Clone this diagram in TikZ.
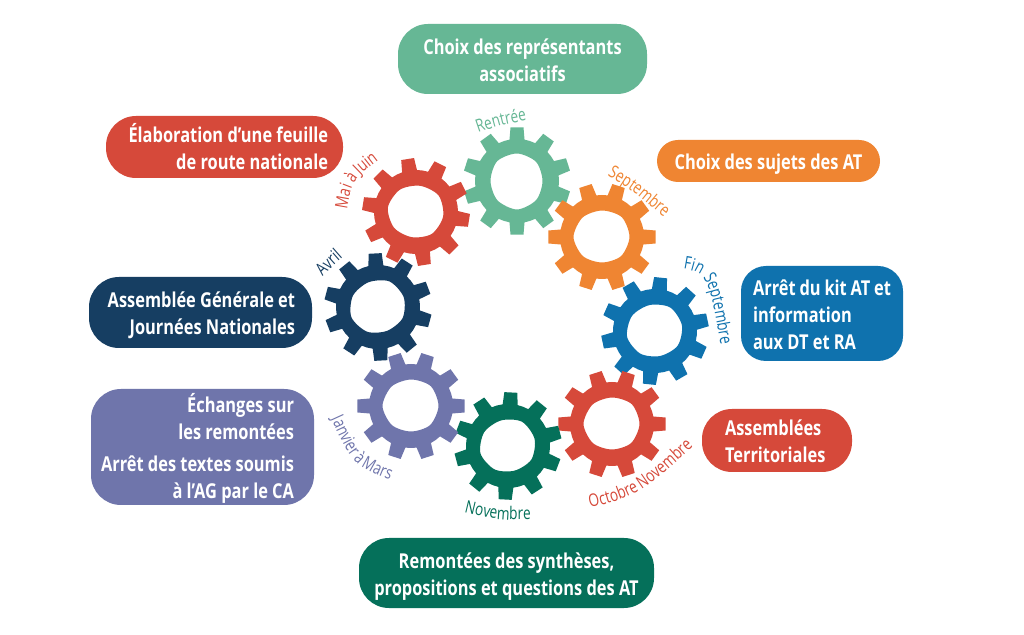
\documentclass[tikz,border=0pt]{standalone}
\usepackage{fontspec}
\setmainfont[FakeStretch=0.8]{Open Sans}
\newfontfamily\labfam[FakeStretch=0.78,WordSpace=0.85]{Open Sans}
\usetikzlibrary{decorations.text}
\definecolor{cgreen}{HTML}{66B795}
\definecolor{corange}{HTML}{EF8532}
\definecolor{cblue}{HTML}{0F72AE}
\definecolor{cred}{HTML}{D6493A}
\definecolor{cdark}{HTML}{05705A}
\definecolor{clav}{HTML}{6F75AB}
\definecolor{cnavy}{HTML}{163E62}
\newcommand{\labfont}{\labfam\fontsize{17.5}{17.5}\selectfont}
\newcommand{\gearat}[4]{%
  \fill[#4,even odd rule,shift={(#1,634-#2)}]
    ({#3-10.3}:42pt)
    foreach \k in {0,...,9}{
      -- ({#3+36*\k-10.3}:42pt) -- ({#3+36*\k-6.9}:54pt) -- ({#3+36*\k+6.9}:54pt) -- ({#3+36*\k+10.3}:42pt)
      arc[start angle={#3+36*\k+10.3},end angle={#3+36*\k+25.7},radius=42pt]
    } -- cycle
    plot[smooth cycle] coordinates {({#3+0}:27.5pt) ({#3+45}:28pt) ({#3+90}:26.5pt) ({#3+135}:27.5pt) ({#3+180}:28.5pt) ({#3+225}:27pt) ({#3+270}:25.5pt) ({#3+315}:27pt)};
}
\newcommand{\curv}[8]{%
  \path[decorate,decoration={text along path,text align=center,
    text={|\labfont\color{#1}|#8}}]
    (#2,634-#3) .. controls (#4,634-#5) .. (#6,634-#7);
}
\tikzset{
  pill/.style={rounded corners=30pt,text=white,font=\bfseries\fontsize{20.5}{27}\selectfont,inner ysep=0pt,inner xsep=#1,
    execute at begin node={\rule{0pt}{24pt}},execute at end node={\rule[-6pt]{0pt}{6pt}}},
  pill/.default=15pt
}
\begin{document}
\begin{tikzpicture}[x=1pt,y=1pt]
\useasboundingbox (0,0) rectangle (1024,634);
\fill[white] (0,0) rectangle (1024,634);
% gears
\gearat{517}{181}{90}{cgreen}
\gearat{602}{237}{0}{corange}
\gearat{655}{331}{12}{cblue}
\gearat{612}{424}{0}{cred}
\gearat{508}{446}{15}{cdark}
\gearat{411}{406}{0}{clav}
\gearat{378}{307}{21}{cnavy}
\gearat{416}{212}{-9}{cred}
% curved labels
\curv{cgreen}{475}{134}{501}{125}{530}{120}{Rentrée}
\curv{corange}{604}{174}{631.5}{190}{667}{220}{Septembre}
\curv{cblue}{676}{268}{708}{272}{722}{352}{Fin Septembre}
\curv{cred}{346}{216}{351.5}{180.5}{384}{156}{Mai à Juin}
\curv{cnavy}{318}{281}{332}{267}{348}{253}{Avril}
\curv{clav}{329}{414}{352.5}{465.5}{395}{482}{Janvier à Mars}
\curv{cdark}{464}{512}{497}{520}{531}{520}{Novembre}
\curv{cred}{584}{509}{638.5}{496}{698}{442}{Octobre Novembre}
% boxes
\node[pill,fill=cgreen,minimum width=249pt,minimum height=70pt,text width=219pt,align=flush center] (choix) at (522.5,634-59) {Choix des représentants\\associatifs};
\node[pill=15pt,fill=cred,minimum width=237pt,minimum height=62pt,text width=207pt,align=flush right] (feuille) at (224.5,634-147) {Élaboration d’une feuille\\de route nationale};
\node[pill,rounded corners=21pt,fill=corange,minimum width=223pt,minimum height=42pt,text width=193pt,align=flush center] (sujets) at (768.5,634-161) {Choix des sujets des AT};
\node[pill=12pt,rounded corners=25pt,fill=cblue,minimum width=162pt,minimum height=95pt,text width=138pt,align=flush left] (kit) at (822,634-313.5) {Arrêt du kit AT et\\information\\aux DT et RA};
\node[pill=23pt,fill=cred,minimum width=150pt,minimum height=63pt,text width=104pt,align=flush left] (terr) at (777,634-440.5) {Assemblées\\Territoriales};
\node[pill,fill=cdark,minimum width=295pt,minimum height=70pt,text width=265pt,align=flush center] (remont) at (506.5,634-573) {Remontées des synthèses,\\propositions et questions des AT};
\node[pill=20pt,fill=clav,minimum width=223pt,minimum height=116pt,text width=183pt,align=flush right] (echanges) at (202.5,634-447) {Échanges sur\\les remontées\\[5pt]\hspace*{-12pt}Arrêt des textes soumis\\à l’AG par le CA};
\node[pill=17pt,fill=cnavy,minimum width=223pt,minimum height=71pt,text width=189pt,align=flush right] (ag) at (200.5,634-312.5) {Assemblée Générale et\\Journées Nationales};
\end{tikzpicture}
\end{document}
